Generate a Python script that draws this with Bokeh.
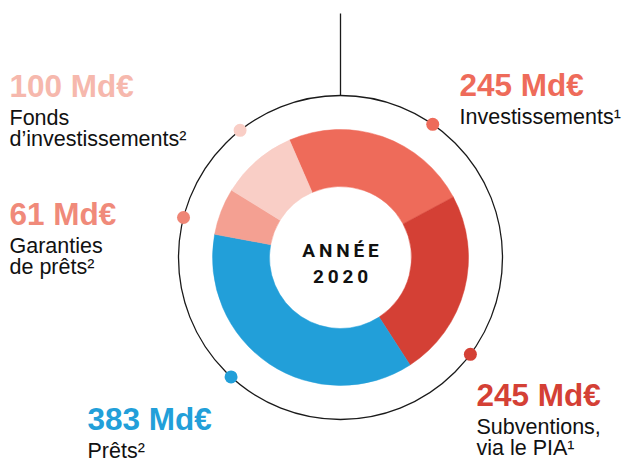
import math
from bokeh.plotting import figure
from bokeh.models import ColumnDataSource
from bokeh.embed import file_html
from bokeh.resources import INLINE
from bokeh.core.properties import value

# ---- data ----
categories = ["Investissements", "Subventions", "Prêts", "Garanties", "Fonds"]
values = [245, 245, 383, 61, 100]
unit = "Md€"
name_lines = [["Investissements¹"], ["Subventions,", "via le PIA¹"], ["Prêts²"],
              ["Garanties", "de prêts²"], ["Fonds", "d’investissements²"]]
center_lines = ["A\u2009N\u2009N\u2009É\u2009E", "2\u20090\u20092\u20090"]

# ---- style ----
colors = ["#EE6B5A", "#D44035", "#229FD9", "#F4A092", "#F9CEC6"]
label_colors = ["#EE6B5A", "#D44035", "#229FD9", "#F08A7A", "#F6B8AD"]
dot_colors = ["#EE6B5A", "#D44035", "#229FD9", "#EF8676", "#F9CEC6"]

W, H = 629, 463
CX, CY = 340, H - 257
R_IN, R_OUT, R_RING = 71, 128, 162
START = -23.5  # degrees clockwise from top
dot_angles = [34.7, 126.7, 222.5, 284.3, 321.7]
label_pos = [(459, 96), (476, 406), (87, 430), (9, 225), (9, 97)]
first_gap = 28
line_gap = 21.5
FONT = "Liberation Sans"
BOLD_SIZE, REG_SIZE, CEN_SIZE = 31.5, 21.5, 19
SHIFT = 0.35  # baseline correction in em

p = figure(width=W, height=H, x_range=(0, W), y_range=(0, H),
           output_backend="svg", toolbar_location=None, min_border=0)
p.axis.visible = False
p.grid.visible = False
p.outline_line_color = None
p.background_fill_color = "white"

# wedges
total = sum(values)
starts, ends = [], []
acc = START
for v in values:
    a0 = acc
    a1 = acc + v / total * 360.0
    starts.append(math.radians(90 - a0))
    ends.append(math.radians(90 - a1))
    acc = a1
src = ColumnDataSource(dict(start=starts, end=ends, color=colors, cat=categories, val=values))
p.annular_wedge(x=CX, y=CY, inner_radius=R_IN, outer_radius=R_OUT,
                start_angle="start", end_angle="end", direction="clock",
                fill_color="color", line_color="color", line_width=0.5, source=src)

# ring and stem
p.circle(x=CX, y=CY, radius=R_RING, fill_color=None, line_color="#1a1a1a", line_width=1.3)
p.segment(x0=CX, y0=H - 13, x1=CX, y1=CY + R_RING, line_color="#1a1a1a", line_width=1.3)

# dots
dx = [CX + R_RING * math.sin(math.radians(a)) for a in dot_angles]
dy = [CY + R_RING * math.cos(math.radians(a)) for a in dot_angles]
p.scatter(x=dx, y=dy, size=13, fill_color=dot_colors, line_color=None)

# labels
for (lx, ly), v, lines, col in zip(label_pos, values, name_lines, label_colors):
    p.text(x=[lx], y=[H - ly + SHIFT * BOLD_SIZE], text=[f"{v} {unit}"], text_font=value(FONT),
           text_font_style="bold", text_font_size=f"{BOLD_SIZE}px", text_color=col,
           text_baseline="alphabetic", text_align="left")
    for i, ln in enumerate(lines):
        p.text(x=[lx], y=[H - (ly + first_gap + i * line_gap) + SHIFT * REG_SIZE], text=[ln],
               text_font=value(FONT), text_font_size=f"{REG_SIZE}px", text_color="#111111",
               text_baseline="alphabetic", text_align="left")

# center text
for i, ln in enumerate(center_lines):
    p.text(x=[CX], y=[H - (257 + i * 26) + SHIFT * CEN_SIZE], text=[ln], text_font=value("Roboto"),
           text_font_style="bold", text_font_size=f"{CEN_SIZE}px", text_color="#111111",
           text_baseline="alphabetic", text_align="center")

open("out.html", "w").write(file_html(p, INLINE))
